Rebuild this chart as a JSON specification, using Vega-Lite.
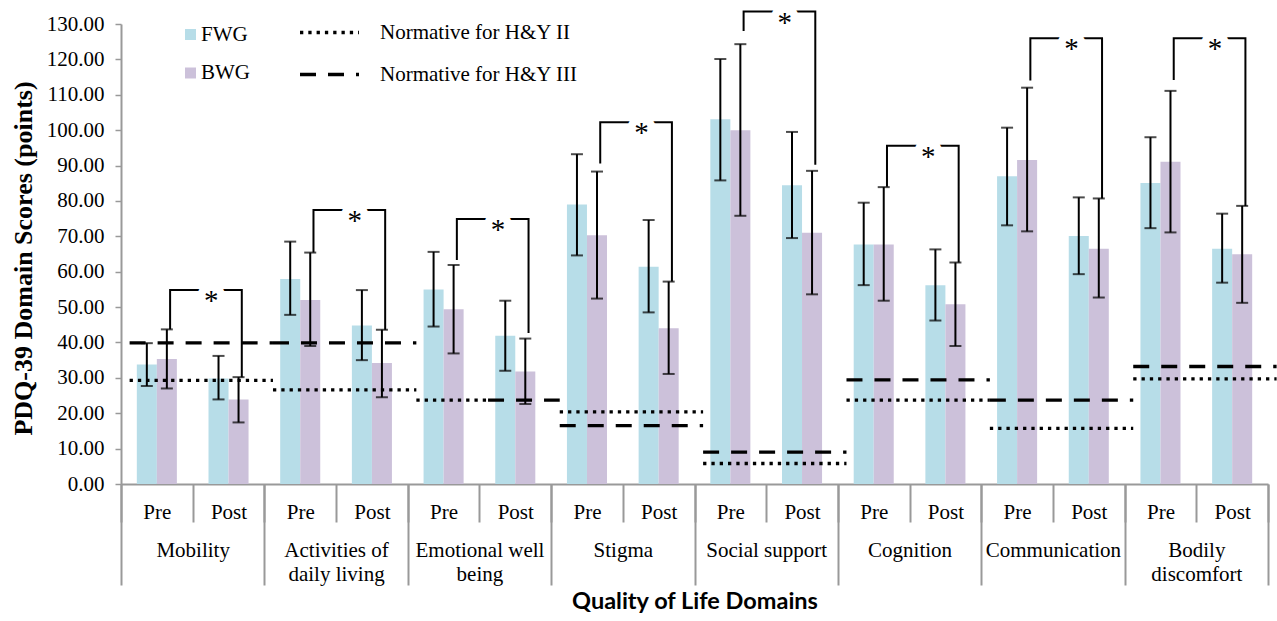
{
  "$schema": "https://vega.github.io/schema/vega-lite/v6.json",
  "width": 1147,
  "height": 460,
  "autosize": {"type": "none"},
  "padding": {"left": 121, "top": 24, "right": 9, "bottom": 137},
  "background": "white",
  "config": {"view": {"stroke": null}, "font": "Liberation Serif", "axis": {"grid": false, "labelFont": "Liberation Serif"}},
  "datasets": {
    "bars": [
      {"slot": "Mobility|Pre", "group": "FWG", "score": 33.8, "lo": 27.7, "hi": 39.8},
      {"slot": "Mobility|Pre", "group": "BWG", "score": 35.3, "lo": 27.0, "hi": 43.7},
      {"slot": "Mobility|Post", "group": "FWG", "score": 29.8, "lo": 23.9, "hi": 36.2},
      {"slot": "Mobility|Post", "group": "BWG", "score": 23.9, "lo": 17.4, "hi": 30.2},
      {"slot": "Activities of daily living|Pre", "group": "FWG", "score": 57.9, "lo": 47.8, "hi": 68.5},
      {"slot": "Activities of daily living|Pre", "group": "BWG", "score": 52.0, "lo": 39.0, "hi": 65.4},
      {"slot": "Activities of daily living|Post", "group": "FWG", "score": 44.8, "lo": 35.0, "hi": 54.8},
      {"slot": "Activities of daily living|Post", "group": "BWG", "score": 34.2, "lo": 24.5, "hi": 43.6},
      {"slot": "Emotional well being|Pre", "group": "FWG", "score": 55.0, "lo": 44.5, "hi": 65.6},
      {"slot": "Emotional well being|Pre", "group": "BWG", "score": 49.4, "lo": 36.9, "hi": 61.9},
      {"slot": "Emotional well being|Post", "group": "FWG", "score": 41.9, "lo": 32.0, "hi": 51.8},
      {"slot": "Emotional well being|Post", "group": "BWG", "score": 31.8, "lo": 22.6, "hi": 41.1},
      {"slot": "Stigma|Pre", "group": "FWG", "score": 79.0, "lo": 64.6, "hi": 93.2},
      {"slot": "Stigma|Pre", "group": "BWG", "score": 70.3, "lo": 52.4, "hi": 88.3},
      {"slot": "Stigma|Post", "group": "FWG", "score": 61.4, "lo": 48.5, "hi": 74.6},
      {"slot": "Stigma|Post", "group": "BWG", "score": 44.0, "lo": 31.1, "hi": 57.2},
      {"slot": "Social support|Pre", "group": "FWG", "score": 103.1, "lo": 85.8, "hi": 120.1},
      {"slot": "Social support|Pre", "group": "BWG", "score": 100.0, "lo": 75.8, "hi": 124.3},
      {"slot": "Social support|Post", "group": "FWG", "score": 84.4, "lo": 69.5, "hi": 99.5},
      {"slot": "Social support|Post", "group": "BWG", "score": 71.0, "lo": 53.6, "hi": 88.5},
      {"slot": "Cognition|Pre", "group": "FWG", "score": 67.7, "lo": 56.2, "hi": 79.5},
      {"slot": "Cognition|Pre", "group": "BWG", "score": 67.7, "lo": 51.8, "hi": 83.9},
      {"slot": "Cognition|Post", "group": "FWG", "score": 56.2, "lo": 46.2, "hi": 66.3},
      {"slot": "Cognition|Post", "group": "BWG", "score": 50.8, "lo": 39.0, "hi": 62.6},
      {"slot": "Communication|Pre", "group": "FWG", "score": 87.0, "lo": 73.1, "hi": 100.7},
      {"slot": "Communication|Pre", "group": "BWG", "score": 91.6, "lo": 71.4, "hi": 112.0},
      {"slot": "Communication|Post", "group": "FWG", "score": 70.1, "lo": 59.3, "hi": 81.0},
      {"slot": "Communication|Post", "group": "BWG", "score": 66.5, "lo": 52.7, "hi": 80.7},
      {"slot": "Bodily discomfort|Pre", "group": "FWG", "score": 85.1, "lo": 72.3, "hi": 98.0},
      {"slot": "Bodily discomfort|Pre", "group": "BWG", "score": 91.1, "lo": 71.1, "hi": 111.1},
      {"slot": "Bodily discomfort|Post", "group": "FWG", "score": 66.5, "lo": 56.9, "hi": 76.4},
      {"slot": "Bodily discomfort|Post", "group": "BWG", "score": 64.9, "lo": 51.2, "hi": 78.6}
    ],
    "norms": [
      {"type": "Normative for H&Y II", "start": "Mobility|Pre", "end": "Mobility|Post", "score": 29.3},
      {"type": "Normative for H&Y III", "start": "Mobility|Pre", "end": "Mobility|Post", "score": 39.9},
      {"type": "Normative for H&Y II", "start": "Activities of daily living|Pre", "end": "Activities of daily living|Post", "score": 26.6},
      {"type": "Normative for H&Y III", "start": "Activities of daily living|Pre", "end": "Activities of daily living|Post", "score": 39.9},
      {"type": "Normative for H&Y II", "start": "Emotional well being|Pre", "end": "Emotional well being|Pre", "score": 23.7},
      {"type": "Normative for H&Y III", "start": "Emotional well being|Post", "end": "Emotional well being|Post", "score": 23.7},
      {"type": "Normative for H&Y II", "start": "Stigma|Pre", "end": "Stigma|Post", "score": 20.4},
      {"type": "Normative for H&Y III", "start": "Stigma|Pre", "end": "Stigma|Post", "score": 16.5},
      {"type": "Normative for H&Y II", "start": "Social support|Pre", "end": "Social support|Post", "score": 5.8},
      {"type": "Normative for H&Y III", "start": "Social support|Pre", "end": "Social support|Post", "score": 9.0},
      {"type": "Normative for H&Y II", "start": "Cognition|Pre", "end": "Cognition|Post", "score": 23.7},
      {"type": "Normative for H&Y III", "start": "Cognition|Pre", "end": "Cognition|Post", "score": 29.4},
      {"type": "Normative for H&Y II", "start": "Communication|Pre", "end": "Communication|Post", "score": 15.7},
      {"type": "Normative for H&Y III", "start": "Communication|Pre", "end": "Communication|Post", "score": 23.7},
      {"type": "Normative for H&Y II", "start": "Bodily discomfort|Pre", "end": "Bodily discomfort|Post", "score": 29.7},
      {"type": "Normative for H&Y III", "start": "Bodily discomfort|Pre", "end": "Bodily discomfort|Post", "score": 33.2}
    ],
    "brackets": [
      {"domain": "Mobility", "slot": "Mobility|Pre", "score": 43.7, "ord": 1},
      {"domain": "Mobility", "slot": "Mobility|Pre", "score": 54.8, "ord": 2},
      {"domain": "Mobility", "slot": "Mobility|Post", "score": 54.8, "ord": 3},
      {"domain": "Mobility", "slot": "Mobility|Post", "score": 30.2, "ord": 4},
      {"domain": "ADL", "slot": "Activities of daily living|Pre", "score": 65.4, "ord": 1},
      {"domain": "ADL", "slot": "Activities of daily living|Pre", "score": 77.4, "ord": 2},
      {"domain": "ADL", "slot": "Activities of daily living|Post", "score": 77.4, "ord": 3},
      {"domain": "ADL", "slot": "Activities of daily living|Post", "score": 43.6, "ord": 4},
      {"domain": "EWB", "slot": "Emotional well being|Pre", "score": 63.3, "ord": 1},
      {"domain": "EWB", "slot": "Emotional well being|Pre", "score": 74.9, "ord": 2},
      {"domain": "EWB", "slot": "Emotional well being|Post", "score": 74.9, "ord": 3},
      {"domain": "EWB", "slot": "Emotional well being|Post", "score": 42.7, "ord": 4},
      {"domain": "Stigma", "slot": "Stigma|Pre", "score": 90.6, "ord": 1},
      {"domain": "Stigma", "slot": "Stigma|Pre", "score": 102.2, "ord": 2},
      {"domain": "Stigma", "slot": "Stigma|Post", "score": 102.2, "ord": 3},
      {"domain": "Stigma", "slot": "Stigma|Post", "score": 57.2, "ord": 4},
      {"domain": "Social", "slot": "Social support|Pre", "score": 128.0, "ord": 1},
      {"domain": "Social", "slot": "Social support|Pre", "score": 133.5, "ord": 2},
      {"domain": "Social", "slot": "Social support|Post", "score": 133.5, "ord": 3},
      {"domain": "Social", "slot": "Social support|Post", "score": 90.2, "ord": 4},
      {"domain": "Cognition", "slot": "Cognition|Pre", "score": 84.0, "ord": 1},
      {"domain": "Cognition", "slot": "Cognition|Pre", "score": 95.6, "ord": 2},
      {"domain": "Cognition", "slot": "Cognition|Post", "score": 95.6, "ord": 3},
      {"domain": "Cognition", "slot": "Cognition|Post", "score": 62.6, "ord": 4},
      {"domain": "Communication", "slot": "Communication|Pre", "score": 114.0, "ord": 1},
      {"domain": "Communication", "slot": "Communication|Pre", "score": 126.0, "ord": 2},
      {"domain": "Communication", "slot": "Communication|Post", "score": 126.0, "ord": 3},
      {"domain": "Communication", "slot": "Communication|Post", "score": 80.7, "ord": 4},
      {"domain": "Bodily", "slot": "Bodily discomfort|Pre", "score": 114.2, "ord": 1},
      {"domain": "Bodily", "slot": "Bodily discomfort|Pre", "score": 126.0, "ord": 2},
      {"domain": "Bodily", "slot": "Bodily discomfort|Post", "score": 126.0, "ord": 3},
      {"domain": "Bodily", "slot": "Bodily discomfort|Post", "score": 78.6, "ord": 4}
    ],
    "stars": [
      {"slot": "Mobility|Post", "score": 54.8, "label": "*"},
      {"slot": "Activities of daily living|Post", "score": 77.4, "label": "*"},
      {"slot": "Emotional well being|Post", "score": 74.9, "label": "*"},
      {"slot": "Stigma|Post", "score": 102.2, "label": "*"},
      {"slot": "Social support|Post", "score": 133.5, "label": "*"},
      {"slot": "Cognition|Post", "score": 95.6, "label": "*"},
      {"slot": "Communication|Post", "score": 126.0, "label": "*"},
      {"slot": "Bodily discomfort|Post", "score": 126.0, "label": "*"}
    ],
    "domains": [
      {"domain": "Mobility"}, {"domain": "Activities of daily living"}, {"domain": "Emotional well being"}, {"domain": "Stigma"},
      {"domain": "Social support"}, {"domain": "Cognition"}, {"domain": "Communication"}, {"domain": "Bodily discomfort"}
    ]
  },
  "layer": [
    {
      "layer": [
        {
          "data": {"name": "bars"},
          "mark": {"type": "bar"},
          "encoding": {
            "x": {"field": "slot", "type": "nominal", "title": null,
              "scale": {"domain": ["Mobility|Pre","Mobility|Post","Activities of daily living|Pre","Activities of daily living|Post","Emotional well being|Pre","Emotional well being|Post","Stigma|Pre","Stigma|Post","Social support|Pre","Social support|Post","Cognition|Pre","Cognition|Post","Communication|Pre","Communication|Post","Bodily discomfort|Pre","Bodily discomfort|Post"], "paddingInner": 0, "paddingOuter": 0},
              "axis": {"orient": "bottom", "labelExpr": "split(datum.value, '|')[1]", "tickBand": "extent", "tickSize": 38, "tickColor": "#999999", "tickWidth": 2, "domainColor": "#999999", "domainWidth": 2, "labelFontSize": 21, "labelPadding": -21, "labelColor": "black", "labelAngle": 0, "labelOverlap": false, "labelBound": false}},
            "xOffset": {"field": "group", "type": "nominal", "scale": {"domain": ["FWG", "BWG"], "paddingInner": 0, "paddingOuter": 0.79}},
            "y": {"field": "score", "type": "quantitative", "title": "PDQ-39 Domain Scores (points)", "scale": {"domain": [0, 130], "nice": false},
              "axis": {"title": "PDQ-39 Domain Scores (points)", "values": [0,10,20,30,40,50,60,70,80,90,100,110,120,130], "tickCount": 20, "format": ".2f", "labelFontSize": 21, "labelColor": "black", "labelOverlap": false, "labelBound": false, "labelFlush": false, "tickSize": 6, "tickColor": "#999999", "tickWidth": 1.5, "domainColor": "#999999", "domainWidth": 2, "labelPadding": 11, "titleFont": "Liberation Serif", "titleFontSize": 26, "titleFontWeight": "bold", "titleColor": "black", "titleX": -90, "titleY": 234, "titleAngle": -90, "titleBaseline": "alphabetic", "titleAlign": "center"}},
            "fill": {"field": "group", "type": "nominal", "scale": {"domain": ["FWG", "BWG"], "range": ["#b7dde8", "#ccc1da"]},
              "legend": {"orient": "none", "legendX": 59, "legendY": 0, "title": null, "symbolType": "square", "symbolSize": 121, "symbolStrokeWidth": 0, "labelFontSize": 21, "labelFont": "Liberation Serif", "labelColor": "black", "labelOffset": 0, "labelLimit": 0, "rowPadding": 16.5, "padding": 0}}
          }
        },
        {
          "data": {"name": "norms"},
          "mark": {"type": "rule", "color": "black", "strokeWidth": 3.3},
          "encoding": {
            "x": {"field": "start", "type": "nominal", "title": null, "bandPosition": 0.12,
              "scale": {"domain": ["Mobility|Pre","Mobility|Post","Activities of daily living|Pre","Activities of daily living|Post","Emotional well being|Pre","Emotional well being|Post","Stigma|Pre","Stigma|Post","Social support|Pre","Social support|Post","Cognition|Pre","Cognition|Post","Communication|Pre","Communication|Post","Bodily discomfort|Pre","Bodily discomfort|Post"], "paddingInner": 0, "paddingOuter": 0}},
            "x2": {"field": "end", "bandPosition": 1.12},
            "y": {"field": "score", "type": "quantitative", "scale": {"domain": [0, 130], "nice": false}},
            "strokeDash": {"field": "type", "type": "nominal", "scale": {"domain": ["Normative for H&Y II", "Normative for H&Y III"], "range": [[3.3, 5], [16, 12]]},
              "legend": {"orient": "none", "legendX": 177, "legendY": -23, "title": null, "symbolType": "stroke", "symbolSize": 3481, "symbolStrokeWidth": 3.3, "symbolStrokeColor": "black", "labelFontSize": 21, "labelFont": "Liberation Serif", "labelColor": "black", "labelOffset": 19, "labelLimit": 0, "rowPadding": 0, "padding": 0}}
          }
        },
        {
          "data": {"name": "bars"},
          "mark": {"type": "rule", "color": "black", "strokeWidth": 2},
          "encoding": {
            "x": {"field": "slot", "type": "nominal", "title": null,
              "scale": {"domain": ["Mobility|Pre","Mobility|Post","Activities of daily living|Pre","Activities of daily living|Post","Emotional well being|Pre","Emotional well being|Post","Stigma|Pre","Stigma|Post","Social support|Pre","Social support|Post","Cognition|Pre","Cognition|Post","Communication|Pre","Communication|Post","Bodily discomfort|Pre","Bodily discomfort|Post"], "paddingInner": 0, "paddingOuter": 0}},
            "xOffset": {"field": "group", "type": "nominal", "scale": {"domain": ["FWG", "BWG"], "paddingInner": 0, "paddingOuter": 0.79}},
            "y": {"field": "lo", "type": "quantitative", "scale": {"domain": [0, 130], "nice": false}},
            "y2": {"field": "hi"}
          }
        },
        {
          "data": {"name": "bars"},
          "mark": {"type": "tick", "color": "black", "thickness": 2, "size": 12, "orient": "horizontal"},
          "encoding": {
            "x": {"field": "slot", "type": "nominal", "title": null,
              "scale": {"domain": ["Mobility|Pre","Mobility|Post","Activities of daily living|Pre","Activities of daily living|Post","Emotional well being|Pre","Emotional well being|Post","Stigma|Pre","Stigma|Post","Social support|Pre","Social support|Post","Cognition|Pre","Cognition|Post","Communication|Pre","Communication|Post","Bodily discomfort|Pre","Bodily discomfort|Post"], "paddingInner": 0, "paddingOuter": 0}},
            "xOffset": {"field": "group", "type": "nominal", "scale": {"domain": ["FWG", "BWG"], "paddingInner": 0, "paddingOuter": 0.79}},
            "y": {"field": "lo", "type": "quantitative", "scale": {"domain": [0, 130], "nice": false}}
          }
        },
        {
          "data": {"name": "bars"},
          "mark": {"type": "tick", "color": "black", "thickness": 2, "size": 12, "orient": "horizontal"},
          "encoding": {
            "x": {"field": "slot", "type": "nominal", "title": null,
              "scale": {"domain": ["Mobility|Pre","Mobility|Post","Activities of daily living|Pre","Activities of daily living|Post","Emotional well being|Pre","Emotional well being|Post","Stigma|Pre","Stigma|Post","Social support|Pre","Social support|Post","Cognition|Pre","Cognition|Post","Communication|Pre","Communication|Post","Bodily discomfort|Pre","Bodily discomfort|Post"], "paddingInner": 0, "paddingOuter": 0}},
            "xOffset": {"field": "group", "type": "nominal", "scale": {"domain": ["FWG", "BWG"], "paddingInner": 0, "paddingOuter": 0.79}},
            "y": {"field": "hi", "type": "quantitative", "scale": {"domain": [0, 130], "nice": false}}
          }
        },
        {
          "data": {"name": "brackets"},
          "mark": {"type": "line", "color": "black", "strokeWidth": 2, "strokeJoin": "miter", "strokeCap": "butt"},
          "encoding": {
            "x": {"field": "slot", "type": "nominal", "title": null, "bandPosition": 0.685,
              "scale": {"domain": ["Mobility|Pre","Mobility|Post","Activities of daily living|Pre","Activities of daily living|Post","Emotional well being|Pre","Emotional well being|Post","Stigma|Pre","Stigma|Post","Social support|Pre","Social support|Post","Cognition|Pre","Cognition|Post","Communication|Pre","Communication|Post","Bodily discomfort|Pre","Bodily discomfort|Post"], "paddingInner": 0, "paddingOuter": 0}},
            "y": {"field": "score", "type": "quantitative", "scale": {"domain": [0, 130], "nice": false}},
            "detail": {"field": "domain", "type": "nominal"},
            "order": {"field": "ord", "type": "quantitative"}
          }
        },
        {
          "data": {"name": "stars"},
          "mark": {"type": "text", "font": "Liberation Serif", "fontSize": 29, "baseline": "middle", "align": "center", "dy": 11, "fill": "white", "stroke": "white", "strokeWidth": 16},
          "encoding": {
            "x": {"field": "slot", "type": "nominal", "title": null, "bandPosition": 0.26,
              "scale": {"domain": ["Mobility|Pre","Mobility|Post","Activities of daily living|Pre","Activities of daily living|Post","Emotional well being|Pre","Emotional well being|Post","Stigma|Pre","Stigma|Post","Social support|Pre","Social support|Post","Cognition|Pre","Cognition|Post","Communication|Pre","Communication|Post","Bodily discomfort|Pre","Bodily discomfort|Post"], "paddingInner": 0, "paddingOuter": 0}},
            "y": {"field": "score", "type": "quantitative", "scale": {"domain": [0, 130], "nice": false}},
            "text": {"field": "label"}
          }
        },
        {
          "data": {"name": "stars"},
          "mark": {"type": "text", "font": "Liberation Serif", "fontSize": 29, "baseline": "middle", "align": "center", "dy": 11, "fill": "black"},
          "encoding": {
            "x": {"field": "slot", "type": "nominal", "title": null, "bandPosition": 0.26,
              "scale": {"domain": ["Mobility|Pre","Mobility|Post","Activities of daily living|Pre","Activities of daily living|Post","Emotional well being|Pre","Emotional well being|Post","Stigma|Pre","Stigma|Post","Social support|Pre","Social support|Post","Cognition|Pre","Cognition|Post","Communication|Pre","Communication|Post","Bodily discomfort|Pre","Bodily discomfort|Post"], "paddingInner": 0, "paddingOuter": 0}},
            "y": {"field": "score", "type": "quantitative", "scale": {"domain": [0, 130], "nice": false}},
            "text": {"field": "label"}
          }
        }
      ]
    },
    {
      "data": {"name": "domains"},
      "mark": {"type": "rule", "strokeOpacity": 0},
      "encoding": {
        "x": {"field": "domain", "type": "nominal",
          "scale": {"domain": ["Mobility", "Activities of daily living", "Emotional well being", "Stigma", "Social support", "Cognition", "Communication", "Bodily discomfort"], "paddingInner": 0, "paddingOuter": 0},
          "axis": {"orient": "bottom", "title": "Quality of Life Domains", "titleFont": "Lato", "titleFontSize": 23.5, "titleFontWeight": "bold", "titleColor": "black", "titleY": 124, "titleBaseline": "alphabetic",
            "tickBand": "extent", "tickSize": 101, "tickColor": "#999999", "tickWidth": 2, "domain": false,
            "labelFontSize": 21, "labelPadding": -46, "labelLineHeight": 24, "labelColor": "black", "labelAngle": 0, "labelOverlap": false, "labelBound": false, "labelLimit": 0,
            "labelExpr": "datum.value == 'Activities of daily living' ? ['Activities of', 'daily living'] : datum.value == 'Emotional well being' ? ['Emotional well', 'being'] : datum.value == 'Bodily discomfort' ? ['Bodily', 'discomfort'] : datum.value"}}
      }
    }
  ],
  "resolve": {"scale": {"x": "independent"}, "axis": {"x": "independent"}}
}
